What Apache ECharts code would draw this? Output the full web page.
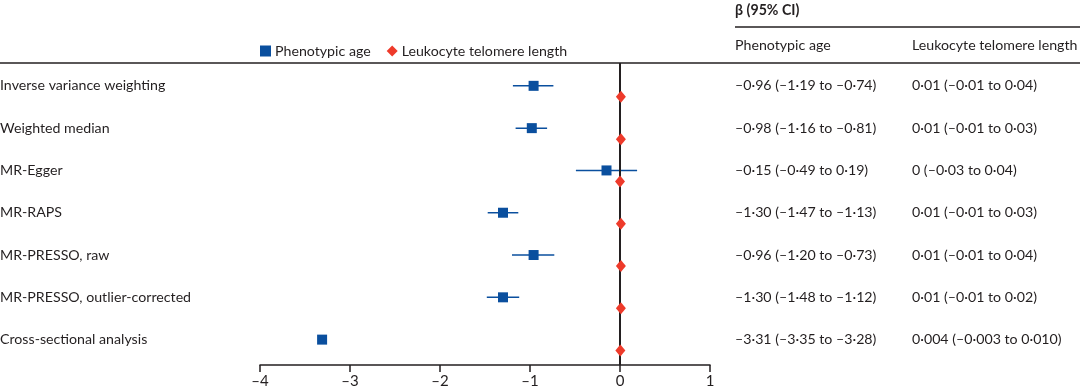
<!DOCTYPE html>
<html><head><meta charset="utf-8">
<script src="https://cdn.jsdelivr.net/npm/echarts@6/dist/echarts.min.js"></script>
<style>html,body{margin:0;padding:0;background:#fff}#c{width:1080px;height:389px}</style>
</head><body><div id="c"></div>
<script>
const methods = ['Inverse variance weighting','Weighted median','MR-Egger','MR-RAPS','MR-PRESSO, raw','MR-PRESSO, outlier-corrected','Cross-sectional analysis'];
const paEst  = [-0.96,-0.98,-0.15,-1.30,-0.96,-1.30,-3.31];
const paLow  = [-1.19,-1.16,-0.49,-1.47,-1.20,-1.48,-3.35];
const paHigh = [-0.74,-0.81, 0.19,-1.13,-0.73,-1.12,-3.28];
const ltlEst  = [0.01,0.01,0,0.01,0.01,0.01,0.004];
const ltlLow  = [-0.01,-0.01,-0.03,-0.01,-0.01,-0.01,-0.003];
const ltlHigh = [0.04,0.03,0.04,0.03,0.04,0.02,0.010];
const paText = ['–0·96 (–1·19 to –0·74)','–0·98 (–1·16 to –0·81)','–0·15 (–0·49 to 0·19)','–1·30 (–1·47 to –1·13)','–0·96 (–1·20 to –0·73)','–1·30 (–1·48 to –1·12)','–3·31 (–3·35 to –3·28)'];
const ltlText = ['0·01 (–0·01 to 0·04)','0·01 (–0·01 to 0·03)','0 (–0·03 to 0·04)','0·01 (–0·01 to 0·03)','0·01 (–0·01 to 0·04)','0·01 (–0·01 to 0·02)','0·004 (–0·003 to 0·010)'];
const xTicks = [-4,-3,-2,-1,0,1];
const seriesNames = ['Phenotypic age','Leukocyte telomere length'];
const header = 'β (95% CI)';

const BLUE = '#0a4f9e', RED = '#ee3a2a', INK = '#231f20';
const FONT = 'Lato';
const FS = 14.2;
const ltlOffset = 0.26;

const chart = echarts.init(document.getElementById('c'), null, {renderer:'canvas'});

function errBars(est, low, high, off){
  return est.map((v,i)=>[low[i], high[i], i+off]);
}
function errRender(color){
  return function(params, api){
    const a = api.coord([api.value(0), api.value(2)]);
    const b = api.coord([api.value(1), api.value(2)]);
    return {type:'line', shape:{x1:a[0],y1:a[1],x2:b[0],y2:b[1]}, style:{stroke:color, lineWidth:1.5}};
  };
}

chart.setOption({
  animation:false,
  textStyle:{fontFamily:FONT},
  grid:{left:260, right:370, top:63, bottom:24, containLabel:false},
  legend:{
    data:[{name:seriesNames[0], icon:'rect'},{name:seriesNames[1], icon:'diamond'}],
    left:255, top:39, itemWidth:11, itemHeight:11, itemGap:16, selectedMode:false,
    textStyle:{fontFamily:FONT, fontSize:FS, color:INK, padding:[0,0,0,-1]}
  },
  xAxis:{
    type:'value', min:xTicks[0], max:xTicks[xTicks.length-1], interval:1,
    splitLine:{show:false},
    axisLine:{show:true, onZero:false, lineStyle:{color:INK, width:1.5}},
    axisTick:{show:true, length:7, lineStyle:{color:INK, width:1.5}},
    axisLabel:{color:INK, fontSize:15, fontFamily:FONT, margin:9,
      formatter:v=>String(v).replace('-','–')}
  },
  yAxis:{type:'value', inverse:true, min:-0.54, max:6.6, show:false},
  series:[
    {type:'custom', renderItem:errRender(BLUE), data:errBars(paEst,paLow,paHigh,0), z:2, silent:true},
    {type:'custom', renderItem:errRender(RED), data:errBars(ltlEst,ltlLow,ltlHigh,ltlOffset), z:2, silent:true},
    {name:seriesNames[0], type:'scatter', symbol:'rect', symbolSize:10, itemStyle:{color:BLUE, opacity:1},
      data:paEst.map((v,i)=>[v,i]), z:4,
      markLine:{silent:true, symbol:'none', label:{show:false}, lineStyle:{color:INK, width:2, type:'solid'},
        data:[{xAxis:0}]}},
    {name:seriesNames[1], type:'scatter', symbol:'diamond', symbolSize:[10,12], itemStyle:{color:RED, opacity:1},
      data:ltlEst.map((v,i)=>[v,i+ltlOffset]), z:5}
  ]
});

const W = chart.getWidth();
const g = [];
function txt(s, x, y, extra){
  return {type:'text', x:x, y:y, style:Object.assign({text:s, x:0, y:0, fontFamily:FONT, fontSize:FS, fill:INK, align:'left', verticalAlign:'middle'}, extra||{})};
}
methods.forEach((m,i)=>{
  const y = chart.convertToPixel({gridIndex:0}, [0,i])[1];
  g.push(txt(m, 0, y));
  g.push(txt(paText[i], 735, y));
  g.push(txt(ltlText[i], 912, y));
});
g.push(txt(header, 735, 10, {fontWeight:'bold'}));
g.push(txt(seriesNames[0], 735, 45));
g.push(txt(seriesNames[1], 912, 45));
g.push({type:'line', shape:{x1:735,y1:27,x2:W,y2:27}, style:{stroke:INK, lineWidth:1.5}});
g.push({type:'line', shape:{x1:0,y1:63,x2:W,y2:63}, style:{stroke:INK, lineWidth:1.5}});
chart.setOption({graphic:g});
</script></body></html>
